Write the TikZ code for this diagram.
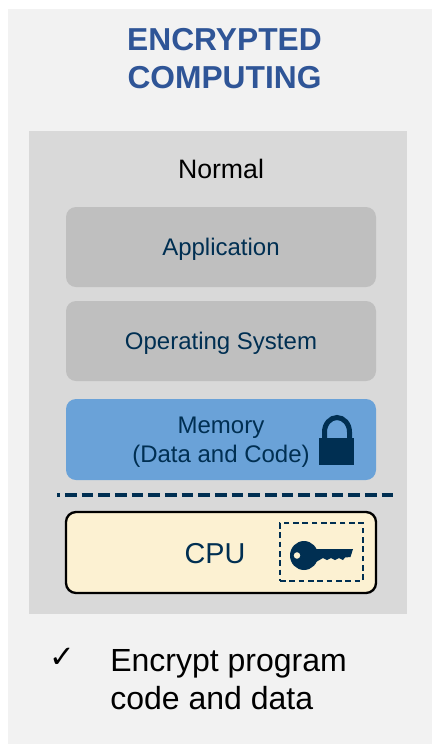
\documentclass[tikz,border=0pt]{standalone}
\usepackage{fontspec}
\setmainfont{Liberation Sans}
\newfontfamily\tickfont{DejaVu Sans}
\usepackage{tikz}
\usetikzlibrary{positioning}
\definecolor{ecpanel}{RGB}{242,242,242}
\definecolor{ecinner}{RGB}{217,217,217}
\definecolor{ecgray}{RGB}{191,191,191}
\definecolor{ecblue}{RGB}{106,162,216}
\definecolor{eccream}{RGB}{252,241,210}
\definecolor{ecnavy}{RGB}{0,47,82}
\definecolor{ectitle}{RGB}{47,85,151}
\tikzstyle{layer} = [rectangle, rounded corners=7.5pt, minimum width=232.5pt, minimum height=60pt, inner sep=0pt, text centered, align=center, text=ecnavy, fill=ecgray, font=\fontsize{18}{21.7}\selectfont, text depth=0pt]
\tikzstyle{label} = [inner sep=0pt, align=left, font=\fontsize{24}{28.5}\selectfont]
\tikzstyle{sep} = [line width=3pt, color=ecnavy, dash pattern=on 8.8pt off 3.7pt, dash phase=6.55pt]

\begin{document}
\begin{tikzpicture}[x=0.75pt, y=-0.75pt]
    \useasboundingbox (0,0) rectangle (432,744);
    % Panels
    \fill[ecpanel] (8,9) rectangle (432,744);
    \fill[ecinner] (29,131) rectangle (407,614);

    % Headings
    \node[inner sep=0pt, align=center, text=ectitle, font=\fontsize{23.8}{28.5}\selectfont\bfseries] (title) at (224.5,59) {ENCRYPTED\\COMPUTING};
    \node[inner sep=0pt, font=\fontsize{20}{24}\selectfont] (normal) at (221,169) {Normal};

    % Layers
    \node[layer] (app) at (221,247) {Application};
    \node[layer] (os) at (221,341) {Operating System};
    \node[layer, fill=ecblue, minimum height=60.75pt] (mem) at (221,439.5) {Memory\\(Data and Code)};
    \node[layer, minimum height=60.75pt, fill=eccream, draw=black, line width=1.75pt, font=\fontsize{21.6}{25}\selectfont, text height=17pt] (cpu) at (221,552.5) {CPU\hspace*{9pt}};

    % Trust boundary
    \coordinate (sepa) at (57,494.7);
    \coordinate (sepb) at (393,494.7);
    \draw[sep] (sepa) -- (sepb);

    % Lock
    \draw[ecnavy, line width=3.75pt] (324.5,442) -- (324.5,432) arc[start angle=180, end angle=360, x radius=12.5, y radius=14.5] -- (349.5,442);
    \fill[ecnavy] (319,438) rectangle (354,465);

    % Key
    \node[draw=ecnavy, dash pattern=on 4.2pt off 2.8pt, line width=1pt, minimum width=62.25pt, minimum height=43.5pt, inner sep=0pt] (keybox) at (321.5,552) {};
    \fill[ecnavy, even odd rule] (304,555.5) ellipse [x radius=14, y radius=14.5] (297,555.5) circle [radius=3.4];
    \fill[ecnavy] (315,549) -- (353,549) -- (350.5,557) -- (345,557.5) -- (343,560) -- (339,558) -- (335,560) -- (331,558) -- (327,560) -- (323,558) -- (316,562) -- cycle;

    % Notes
    \node[inner sep=0pt, font=\fontsize{23}{27}\tickfont] (tick) at (62.5,658) {✓};
    \node[label, anchor=west] (note) at (110,680) {Encrypt program\\code and data};
\end{tikzpicture}
\end{document}
